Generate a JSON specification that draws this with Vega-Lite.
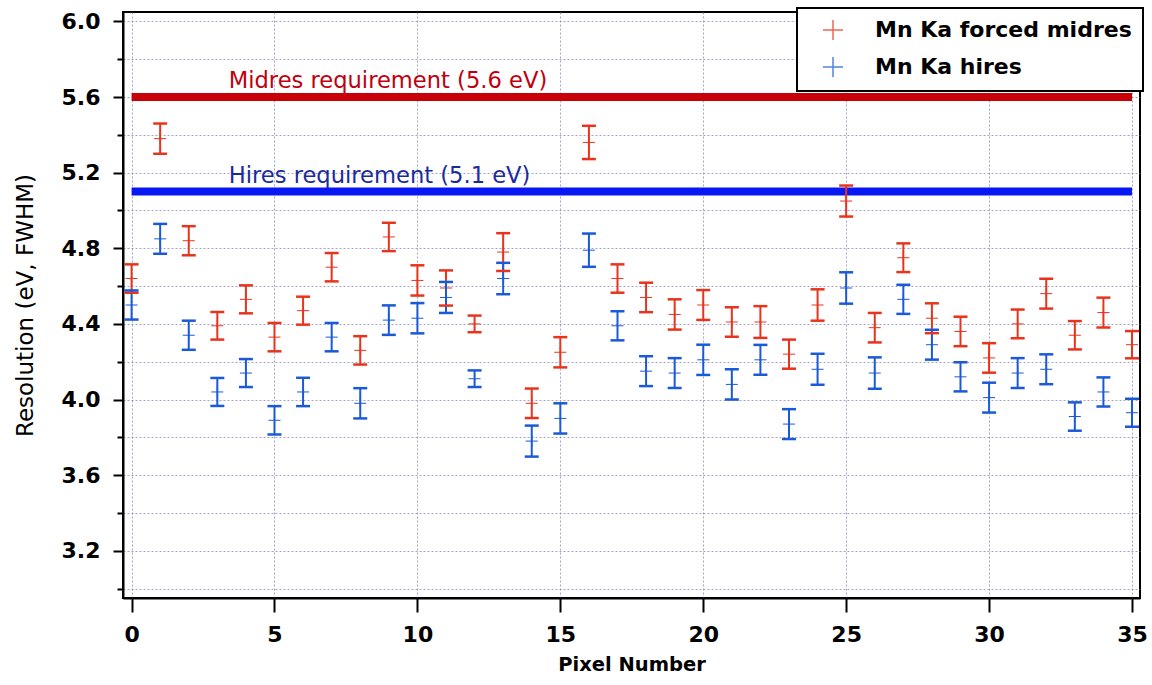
{
  "$schema": "https://vega.github.io/schema/vega-lite/v6.json",
  "width": 1017,
  "height": 586,
  "autosize": "none",
  "padding": {"left": 123, "top": 12, "right": 12, "bottom": 87},
  "background": "white",
  "config": {
    "view": {"stroke": "black", "strokeWidth": 2},
    "font": "DejaVu Sans",
    "legend": {"strokeWidth": 2}
  },
  "datasets": {
    "points": [
      {"pixel": 0, "series": "Mn Ka forced midres", "res": 4.64, "lo": 4.565, "hi": 4.715},
      {"pixel": 1, "series": "Mn Ka forced midres", "res": 5.38, "lo": 5.3, "hi": 5.46},
      {"pixel": 2, "series": "Mn Ka forced midres", "res": 4.84, "lo": 4.763, "hi": 4.917},
      {"pixel": 3, "series": "Mn Ka forced midres", "res": 4.39, "lo": 4.317, "hi": 4.463},
      {"pixel": 4, "series": "Mn Ka forced midres", "res": 4.53, "lo": 4.456, "hi": 4.604},
      {"pixel": 5, "series": "Mn Ka forced midres", "res": 4.33, "lo": 4.255, "hi": 4.405},
      {"pixel": 6, "series": "Mn Ka forced midres", "res": 4.47, "lo": 4.396, "hi": 4.544},
      {"pixel": 7, "series": "Mn Ka forced midres", "res": 4.7, "lo": 4.625, "hi": 4.775},
      {"pixel": 8, "series": "Mn Ka forced midres", "res": 4.26, "lo": 4.185, "hi": 4.335},
      {"pixel": 9, "series": "Mn Ka forced midres", "res": 4.86, "lo": 4.785, "hi": 4.935},
      {"pixel": 10, "series": "Mn Ka forced midres", "res": 4.63, "lo": 4.55, "hi": 4.71},
      {"pixel": 11, "series": "Mn Ka forced midres", "res": 4.59, "lo": 4.497, "hi": 4.683},
      {"pixel": 12, "series": "Mn Ka forced midres", "res": 4.4, "lo": 4.356, "hi": 4.444},
      {"pixel": 13, "series": "Mn Ka forced midres", "res": 4.78, "lo": 4.68, "hi": 4.88},
      {"pixel": 14, "series": "Mn Ka forced midres", "res": 3.98, "lo": 3.902, "hi": 4.058},
      {"pixel": 15, "series": "Mn Ka forced midres", "res": 4.25, "lo": 4.17, "hi": 4.33},
      {"pixel": 16, "series": "Mn Ka forced midres", "res": 5.36, "lo": 5.272, "hi": 5.448},
      {"pixel": 17, "series": "Mn Ka forced midres", "res": 4.64, "lo": 4.565, "hi": 4.715},
      {"pixel": 18, "series": "Mn Ka forced midres", "res": 4.54, "lo": 4.462, "hi": 4.618},
      {"pixel": 19, "series": "Mn Ka forced midres", "res": 4.45, "lo": 4.37, "hi": 4.53},
      {"pixel": 20, "series": "Mn Ka forced midres", "res": 4.5, "lo": 4.421, "hi": 4.579},
      {"pixel": 21, "series": "Mn Ka forced midres", "res": 4.41, "lo": 4.332, "hi": 4.488},
      {"pixel": 22, "series": "Mn Ka forced midres", "res": 4.41, "lo": 4.326, "hi": 4.494},
      {"pixel": 23, "series": "Mn Ka forced midres", "res": 4.24, "lo": 4.163, "hi": 4.317},
      {"pixel": 24, "series": "Mn Ka forced midres", "res": 4.5, "lo": 4.417, "hi": 4.583},
      {"pixel": 25, "series": "Mn Ka forced midres", "res": 5.05, "lo": 4.968, "hi": 5.132},
      {"pixel": 26, "series": "Mn Ka forced midres", "res": 4.38, "lo": 4.302, "hi": 4.458},
      {"pixel": 27, "series": "Mn Ka forced midres", "res": 4.75, "lo": 4.674, "hi": 4.826},
      {"pixel": 28, "series": "Mn Ka forced midres", "res": 4.43, "lo": 4.351, "hi": 4.509},
      {"pixel": 29, "series": "Mn Ka forced midres", "res": 4.36, "lo": 4.282, "hi": 4.438},
      {"pixel": 30, "series": "Mn Ka forced midres", "res": 4.22, "lo": 4.142, "hi": 4.298},
      {"pixel": 31, "series": "Mn Ka forced midres", "res": 4.4, "lo": 4.324, "hi": 4.476},
      {"pixel": 32, "series": "Mn Ka forced midres", "res": 4.56, "lo": 4.481, "hi": 4.639},
      {"pixel": 33, "series": "Mn Ka forced midres", "res": 4.34, "lo": 4.265, "hi": 4.415},
      {"pixel": 34, "series": "Mn Ka forced midres", "res": 4.46, "lo": 4.381, "hi": 4.539},
      {"pixel": 35, "series": "Mn Ka forced midres", "res": 4.29, "lo": 4.218, "hi": 4.362},
      {"pixel": 0, "series": "Mn Ka hires", "res": 4.5, "lo": 4.423, "hi": 4.577},
      {"pixel": 1, "series": "Mn Ka hires", "res": 4.85, "lo": 4.771, "hi": 4.929},
      {"pixel": 2, "series": "Mn Ka hires", "res": 4.34, "lo": 4.263, "hi": 4.417},
      {"pixel": 3, "series": "Mn Ka hires", "res": 4.04, "lo": 3.966, "hi": 4.114},
      {"pixel": 4, "series": "Mn Ka hires", "res": 4.14, "lo": 4.066, "hi": 4.214},
      {"pixel": 5, "series": "Mn Ka hires", "res": 3.89, "lo": 3.815, "hi": 3.965},
      {"pixel": 6, "series": "Mn Ka hires", "res": 4.04, "lo": 3.965, "hi": 4.115},
      {"pixel": 7, "series": "Mn Ka hires", "res": 4.33, "lo": 4.255, "hi": 4.405},
      {"pixel": 8, "series": "Mn Ka hires", "res": 3.98, "lo": 3.9, "hi": 4.06},
      {"pixel": 9, "series": "Mn Ka hires", "res": 4.42, "lo": 4.342, "hi": 4.498},
      {"pixel": 10, "series": "Mn Ka hires", "res": 4.43, "lo": 4.35, "hi": 4.51},
      {"pixel": 11, "series": "Mn Ka hires", "res": 4.54, "lo": 4.458, "hi": 4.622},
      {"pixel": 12, "series": "Mn Ka hires", "res": 4.11, "lo": 4.066, "hi": 4.154},
      {"pixel": 13, "series": "Mn Ka hires", "res": 4.64, "lo": 4.557, "hi": 4.723},
      {"pixel": 14, "series": "Mn Ka hires", "res": 3.78, "lo": 3.698, "hi": 3.862},
      {"pixel": 15, "series": "Mn Ka hires", "res": 3.9, "lo": 3.82, "hi": 3.98},
      {"pixel": 16, "series": "Mn Ka hires", "res": 4.79, "lo": 4.702, "hi": 4.878},
      {"pixel": 17, "series": "Mn Ka hires", "res": 4.39, "lo": 4.313, "hi": 4.467},
      {"pixel": 18, "series": "Mn Ka hires", "res": 4.15, "lo": 4.071, "hi": 4.229},
      {"pixel": 19, "series": "Mn Ka hires", "res": 4.14, "lo": 4.061, "hi": 4.219},
      {"pixel": 20, "series": "Mn Ka hires", "res": 4.21, "lo": 4.13, "hi": 4.29},
      {"pixel": 21, "series": "Mn Ka hires", "res": 4.08, "lo": 4.0, "hi": 4.16},
      {"pixel": 22, "series": "Mn Ka hires", "res": 4.21, "lo": 4.131, "hi": 4.289},
      {"pixel": 23, "series": "Mn Ka hires", "res": 3.87, "lo": 3.791, "hi": 3.949},
      {"pixel": 24, "series": "Mn Ka hires", "res": 4.16, "lo": 4.078, "hi": 4.242},
      {"pixel": 25, "series": "Mn Ka hires", "res": 4.59, "lo": 4.507, "hi": 4.673},
      {"pixel": 26, "series": "Mn Ka hires", "res": 4.14, "lo": 4.057, "hi": 4.223},
      {"pixel": 27, "series": "Mn Ka hires", "res": 4.53, "lo": 4.453, "hi": 4.607},
      {"pixel": 28, "series": "Mn Ka hires", "res": 4.29, "lo": 4.211, "hi": 4.369},
      {"pixel": 29, "series": "Mn Ka hires", "res": 4.12, "lo": 4.043, "hi": 4.197},
      {"pixel": 30, "series": "Mn Ka hires", "res": 4.01, "lo": 3.931, "hi": 4.089},
      {"pixel": 31, "series": "Mn Ka hires", "res": 4.14, "lo": 4.061, "hi": 4.219},
      {"pixel": 32, "series": "Mn Ka hires", "res": 4.16, "lo": 4.081, "hi": 4.239},
      {"pixel": 33, "series": "Mn Ka hires", "res": 3.91, "lo": 3.835, "hi": 3.985},
      {"pixel": 34, "series": "Mn Ka hires", "res": 4.04, "lo": 3.963, "hi": 4.117},
      {"pixel": 35, "series": "Mn Ka hires", "res": 3.93, "lo": 3.856, "hi": 4.004}
    ]
  },
  "layer": [
    {
      "data": {"values": [{"req": "Midres requirement (5.6 eV)", "value": 5.6, "from": 0, "to": 35}]},
      "mark": {"type": "rule", "color": "#c80008", "strokeWidth": 8, "strokeCap": "butt"},
      "encoding": {
        "x": {"field": "from", "type": "quantitative", "scale": {"domain": [-0.3, 35.28], "nice": false, "zero": false},
          "axis": {"values": [0, 5, 10, 15, 20, 25, 30, 35], "tickCount": 20, "format": "d", "title": "Pixel Number",
            "tickSize": 14, "tickWidth": 2, "tickColor": "black", "domainColor": "black", "domainWidth": 2,
            "labelFontSize": 22, "labelFontWeight": "bold", "labelColor": "black", "labelPadding": 12,
            "titleFontSize": 19.5, "titleFontWeight": "bold", "titleColor": "black", "titlePadding": 10,
            "grid": true, "gridDash": [2, 2], "gridColor": "#7c7cb8", "gridOpacity": 0.7, "gridWidth": 1}},
        "x2": {"field": "to"},
        "y": {"field": "value", "type": "quantitative", "scale": {"domain": [2.95, 6.05], "nice": false, "zero": false},
          "axis": {"values": [3.0, 3.2, 3.4, 3.6, 3.8, 4.0, 4.2, 4.4, 4.6, 4.8, 5.0, 5.2, 5.4, 5.6, 5.8, 6.0],
            "tickCount": 40,
            "labelExpr": "indexof(['3.2','3.6','4.0','4.4','4.8','5.2','5.6','6.0'], format(datum.value, '.1f')) >= 0 ? format(datum.value, '.1f') : ''",
            "labelOverlap": false,
            "title": "Resolution (eV, FWHM)",
            "tickSize": {"condition": {"test": "indexof(['3.2','3.6','4.0','4.4','4.8','5.2','5.6','6.0'], format(datum.value, '.1f')) >= 0", "value": 10}, "value": 6},
            "tickWidth": 2, "tickColor": "black", "domainColor": "black", "domainWidth": 2,
            "labelFontSize": 22, "labelFontWeight": "bold", "labelColor": "black", "labelPadding": 13,
            "titleFontSize": 23, "titleFontWeight": "normal", "titleColor": "black", "titlePadding": 24,
            "grid": true, "gridDash": [2, 2], "gridColor": "#7c7cb8", "gridOpacity": 0.7, "gridWidth": 1}}
      }
    },
    {
      "data": {"values": [{"req": "Hires requirement (5.1 eV)", "value": 5.1, "from": 0, "to": 35}]},
      "mark": {"type": "rule", "color": "#0818f4", "strokeWidth": 8, "strokeCap": "butt"},
      "encoding": {
        "x": {"field": "from", "type": "quantitative"},
        "x2": {"field": "to"},
        "y": {"field": "value", "type": "quantitative"}
      }
    },
    {
      "data": {"values": [{"req": "Midres requirement (5.6 eV)", "value": 5.6, "at": 3.4}]},
      "mark": {"type": "text", "color": "#c0000e", "fontSize": 22.6, "font": "DejaVu Sans", "align": "left", "baseline": "alphabetic", "dy": -9},
      "encoding": {
        "x": {"field": "at", "type": "quantitative"},
        "y": {"field": "value", "type": "quantitative"},
        "text": {"field": "req"}
      }
    },
    {
      "data": {"values": [{"req": "Hires requirement (5.1 eV)", "value": 5.1, "at": 3.4}]},
      "mark": {"type": "text", "color": "#1c2a9c", "fontSize": 22.6, "font": "DejaVu Sans", "align": "left", "baseline": "alphabetic", "dy": -9},
      "encoding": {
        "x": {"field": "at", "type": "quantitative"},
        "y": {"field": "value", "type": "quantitative"},
        "text": {"field": "req"}
      }
    },
    {
      "data": {"name": "points"},
      "mark": {"type": "point", "shape": "M-1,0H1M0,-1V1", "filled": false, "size": 144, "strokeWidth": 1, "opacity": 1},
      "encoding": {
        "x": {"field": "pixel", "type": "quantitative"},
        "y": {"field": "res", "type": "quantitative"},
        "color": {"field": "series", "type": "nominal",
          "scale": {"domain": ["Mn Ka forced midres", "Mn Ka hires"], "range": ["#e8341c", "#1a5ad8"]},
          "legend": {"title": null, "orient": "none", "legendX": 674, "legendY": -4,
            "labelFontSize": 22, "labelFontWeight": "bold", "labelColor": "black", "labelFont": "DejaVu Sans", "labelLimit": 500,
            "symbolType": "M-1,0H1M0,-1V1", "symbolSize": 400, "symbolStrokeWidth": 1.5, "symbolOpacity": 0.75,
            "padding": 11, "rowPadding": 11, "symbolOffset": 14, "labelOffset": 31,
            "strokeColor": "black", "fillColor": "white"}}
      }
    },
    {
      "data": {"name": "points"},
      "mark": {"type": "rule", "strokeWidth": 2},
      "encoding": {
        "x": {"field": "pixel", "type": "quantitative"},
        "y": {"field": "lo", "type": "quantitative"},
        "y2": {"field": "hi"},
        "color": {"field": "series", "type": "nominal"}
      }
    },
    {
      "data": {"name": "points"},
      "mark": {"type": "tick", "orient": "horizontal", "size": 14, "thickness": 2.5, "opacity": 1},
      "encoding": {
        "x": {"field": "pixel", "type": "quantitative"},
        "y": {"field": "lo", "type": "quantitative"},
        "color": {"field": "series", "type": "nominal"}
      }
    },
    {
      "data": {"name": "points"},
      "mark": {"type": "tick", "orient": "horizontal", "size": 14, "thickness": 2.5, "opacity": 1},
      "encoding": {
        "x": {"field": "pixel", "type": "quantitative"},
        "y": {"field": "hi", "type": "quantitative"},
        "color": {"field": "series", "type": "nominal"}
      }
    }
  ]
}
